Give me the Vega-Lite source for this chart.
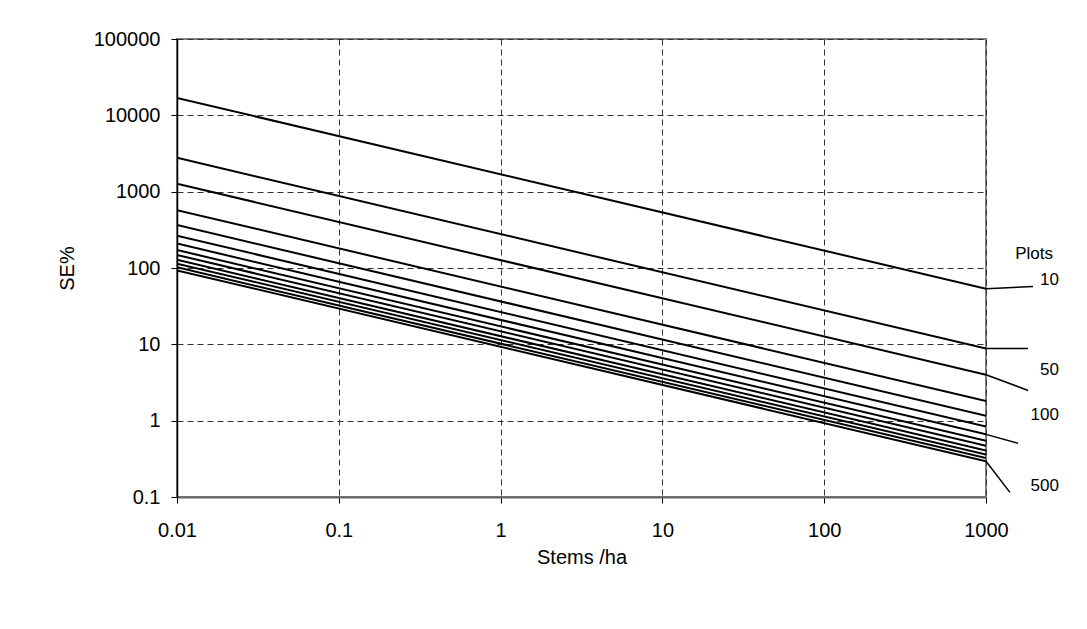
{
  "$schema": "https://vega.github.io/schema/vega-lite/v6.json",
  "width": 809,
  "height": 458,
  "autosize": {"type": "none"},
  "padding": {"left": 177, "top": 39, "right": 101, "bottom": 132},
  "background": "white",
  "config": {
    "view": {"stroke": "#808080", "strokeWidth": 2},
    "font": "Liberation Sans"
  },
  "datasets": {
    "lines": [
      {"line": 1, "x": 0.01, "y": 16900}, {"line": 1, "x": 1000, "y": 53.5},
      {"line": 2, "x": 0.01, "y": 2780}, {"line": 2, "x": 1000, "y": 8.8},
      {"line": 3, "x": 0.01, "y": 1270}, {"line": 3, "x": 1000, "y": 4.0},
      {"line": 4, "x": 0.01, "y": 572}, {"line": 4, "x": 1000, "y": 1.81},
      {"line": 5, "x": 0.01, "y": 365}, {"line": 5, "x": 1000, "y": 1.155},
      {"line": 6, "x": 0.01, "y": 265}, {"line": 6, "x": 1000, "y": 0.838},
      {"line": 7, "x": 0.01, "y": 209}, {"line": 7, "x": 1000, "y": 0.661},
      {"line": 8, "x": 0.01, "y": 172}, {"line": 8, "x": 1000, "y": 0.544},
      {"line": 9, "x": 0.01, "y": 148}, {"line": 9, "x": 1000, "y": 0.468},
      {"line": 10, "x": 0.01, "y": 128}, {"line": 10, "x": 1000, "y": 0.405},
      {"line": 11, "x": 0.01, "y": 114}, {"line": 11, "x": 1000, "y": 0.36},
      {"line": 12, "x": 0.01, "y": 102}, {"line": 12, "x": 1000, "y": 0.323},
      {"line": 13, "x": 0.01, "y": 93}, {"line": 13, "x": 1000, "y": 0.294}
    ],
    "leaders": [
      {"x": 1000, "y": 53.5, "x2": 1950, "y2": 57.3},
      {"x": 1000, "y": 8.8, "x2": 1819, "y2": 8.8},
      {"x": 1000, "y": 4.0, "x2": 1819, "y2": 2.49},
      {"x": 1000, "y": 0.661, "x2": 1577, "y2": 0.505},
      {"x": 1000, "y": 0.294, "x2": 1406, "y2": 0.115}
    ],
    "labels": [
      {"x": 2594, "y": 152, "label": "Plots"},
      {"x": 2825, "y": 68.7, "label": "10"},
      {"x": 2825, "y": 4.55, "label": "50"},
      {"x": 2825, "y": 1.19, "label": "100"},
      {"x": 2825, "y": 0.138, "label": "500"}
    ]
  },
  "layer": [
    {
      "data": {"name": "lines"},
      "mark": {"type": "line", "color": "black", "strokeWidth": 2, "clip": true},
      "encoding": {
        "x": {
          "field": "x", "type": "quantitative",
          "scale": {"type": "log", "domain": [0.01, 1000], "nice": false},
          "axis": {
            "title": "Stems /ha", "values": [0.01, 0.1, 1, 10, 100, 1000], "format": "~g",
            "grid": true, "gridDash": [6, 4], "gridColor": "#333", "gridWidth": 1,
            "tickColor": "black", "tickSize": 6, "labelFontSize": 20, "labelColor": "black",
            "labelPadding": 17, "titleFontSize": 20, "titleFontWeight": "normal",
            "titleColor": "black", "titlePadding": 7, "domainColor": "#666", "domainWidth": 2,
            "labelFlush": false
          }
        },
        "y": {
          "field": "y", "type": "quantitative",
          "scale": {"type": "log", "domain": [0.1, 100000], "nice": false},
          "axis": {
            "title": "SE%", "values": [0.1, 1, 10, 100, 1000, 10000, 100000], "format": "~g",
            "grid": true, "gridDash": [6, 4], "gridColor": "#333", "gridWidth": 1,
            "tickColor": "black", "tickSize": 6, "labelFontSize": 20, "labelColor": "black",
            "labelPadding": 11, "titleFontSize": 20, "titleFontWeight": "normal",
            "titleColor": "black", "titlePadding": 16, "domainColor": "black", "domainWidth": 1.5,
            "labelFlush": false
          }
        },
        "detail": {"field": "line", "type": "nominal"}
      }
    },
    {
      "data": {"name": "leaders"},
      "mark": {"type": "rule", "color": "black", "strokeWidth": 1.5, "clip": false},
      "encoding": {
        "x": {"field": "x", "type": "quantitative"},
        "x2": {"field": "x2"},
        "y": {"field": "y", "type": "quantitative"},
        "y2": {"field": "y2"}
      }
    },
    {
      "data": {"name": "labels"},
      "mark": {"type": "text", "align": "right", "baseline": "middle", "fontSize": 17, "color": "black", "clip": false},
      "encoding": {
        "x": {"field": "x", "type": "quantitative"},
        "y": {"field": "y", "type": "quantitative"},
        "text": {"field": "label"}
      }
    }
  ]
}
